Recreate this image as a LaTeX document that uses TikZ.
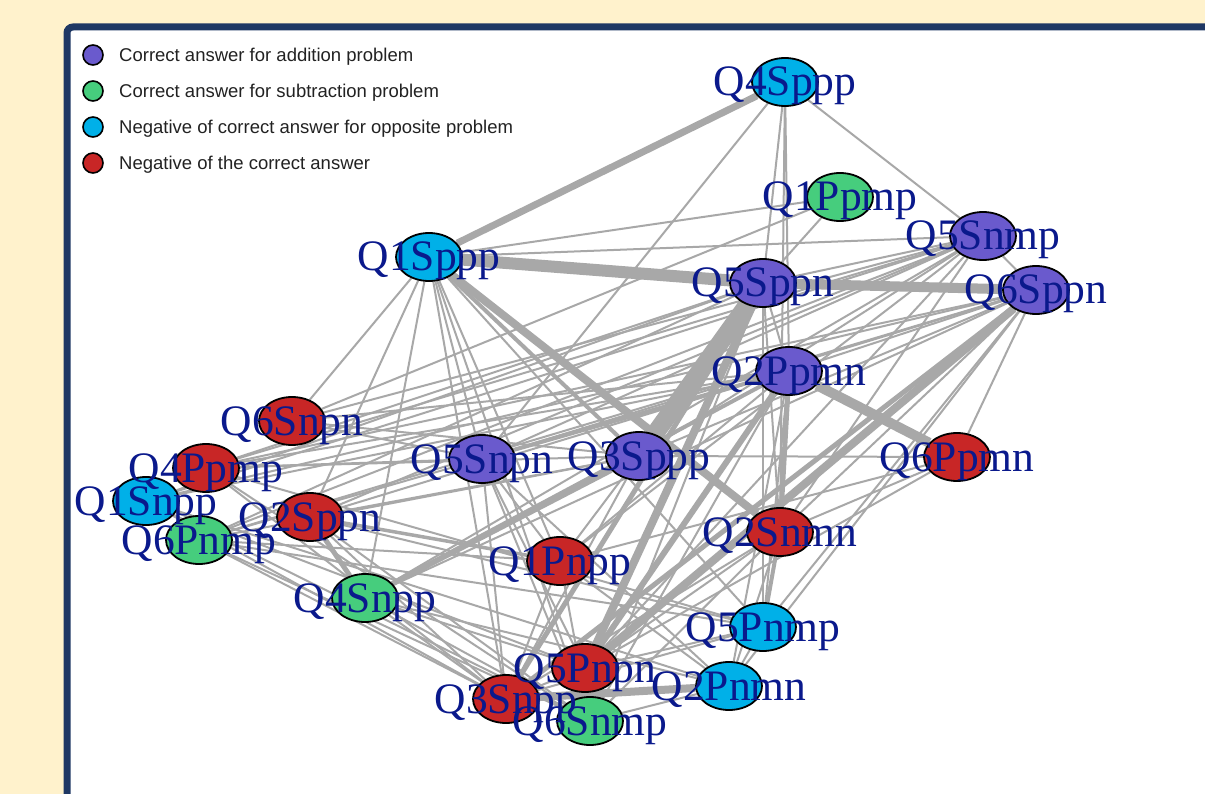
\documentclass[tikz,border=0pt]{standalone}
\usepackage{fontspec}
\usetikzlibrary{shapes.geometric,backgrounds}
\newfontfamily\labfont{Liberation Serif}
\newfontfamily\legfont{Liberation Sans}
\definecolor{bgcream}{RGB}{255,242,204}
\definecolor{panelnavy}{RGB}{31,56,100}
\definecolor{addc}{RGB}{106,90,205}
\definecolor{subc}{RGB}{70,205,125}
\definecolor{oppc}{RGB}{0,176,232}
\definecolor{negc}{RGB}{200,38,38}
\definecolor{labblue}{RGB}{10,25,140}
\definecolor{edgegray}{RGB}{168,168,168}
\definecolor{legtext}{RGB}{34,34,34}
\tikzset{
  nd/.style={ellipse, draw=black, line width=1.8pt, minimum width=66pt, minimum height=48pt, inner sep=0pt},
  lab/.style={font=\labfont\fontsize{43.5}{43.5}\selectfont, text=labblue, anchor=base, inner sep=0pt, yshift=-14pt},
  edg/.style={draw=edgegray, line width=#1},
  edg/.default=2pt,
  legdot/.style={circle, draw=black, line width=1.6pt, minimum size=20pt, inner sep=0pt},
  legtxt/.style={font=\legfont\fontsize{18.5}{18.5}\selectfont, text=legtext, anchor=base west, inner sep=0pt, yshift=-6.5pt}
}
\begin{document}
\begin{tikzpicture}[x=1pt,y=-1pt]
\useasboundingbox (0,0) rectangle (1205,794);
% nodes
\node[nd, fill=oppc] (q4sppp) at (785,82) {};
\node[nd, fill=subc] (q1ppmp) at (840,197) {};
\node[nd, fill=addc] (q5snmp) at (983,236) {};
\node[nd, fill=oppc] (q1sppp) at (429,257) {};
\node[nd, fill=addc] (q5sppn) at (763,283) {};
\node[nd, fill=addc] (q6sppn) at (1036,290) {};
\node[nd, fill=addc] (q2ppmn) at (789,371) {};
\node[nd, fill=negc] (q6snpn) at (292,421) {};
\node[nd, fill=negc] (q4ppmp) at (206,468) {};
\node[nd, fill=addc] (q5snpn) at (482,459) {};
\node[nd, fill=addc] (q3sppp) at (639,456) {};
\node[nd, fill=negc] (q6ppmn) at (957,457) {};
\node[nd, fill=oppc] (q1snpp) at (146,501) {};
\node[nd, fill=negc] (q2sppn) at (310,517) {};
\node[nd, fill=subc] (q6pnmp) at (199,540) {};
\node[nd, fill=negc] (q2snmn) at (780,532) {};
\node[nd, fill=negc] (q1pnpp) at (560,561) {};
\node[nd, fill=subc] (q4snpp) at (365,598) {};
\node[nd, fill=oppc] (q5pnmp) at (763,627) {};
\node[nd, fill=negc] (q3snpp) at (506,699) {};
\node[nd, fill=negc] (q5pnpn) at (585,668) {};
\node[nd, fill=oppc] (q2pnmn) at (729,686) {};
\node[nd, fill=subc] (q6snmp) at (590,721) {};
% labels
\node[lab] at (q4sppp) {Q4Sppp};
\node[lab] at (q1ppmp) {Q1Ppmp};
\node[lab] at (q5snmp) {Q5Snmp};
\node[lab] at (q1sppp) {Q1Sppp};
\node[lab] at (q5sppn) {Q5Sppn};
\node[lab] at (q6sppn) {Q6Sppn};
\node[lab] at (q2ppmn) {Q2Ppmn};
\node[lab] at (q6snpn) {Q6Snpn};
\node[lab] at (q4ppmp) {Q4Ppmp};
\node[lab] at (q5snpn) {Q5Snpn};
\node[lab] at (q3sppp) {Q3Sppp};
\node[lab] at (q6ppmn) {Q6Ppmn};
\node[lab] at (q1snpp) {Q1Snpp};
\node[lab] at (q2sppn) {Q2Sppn};
\node[lab] at (q6pnmp) {Q6Pnmp};
\node[lab] at (q2snmn) {Q2Snmn};
\node[lab] at (q1pnpp) {Q1Pnpp};
\node[lab] at (q4snpp) {Q4Snpp};
\node[lab] at (q5pnmp) {Q5Pnmp};
\node[lab] at (q3snpp) {Q3Snpp};
\node[lab] at (q5pnpn) {Q5Pnpn};
\node[lab] at (q2pnmn) {Q2Pnmn};
\node[lab] at (q6snmp) {Q6Snmp};
% legend
\node[legdot, fill=addc] (l1) at (93,55) {};
\node[legdot, fill=subc] (l2) at (93,91) {};
\node[legdot, fill=oppc] (l3) at (93,127) {};
\node[legdot, fill=negc] (l4) at (93,163) {};
\node[legtxt] (t1) at (119,55) {Correct answer for addition problem};
\node[legtxt] (t2) at (119,91) {Correct answer for subtraction problem};
\node[legtxt] (t3) at (119,127) {Negative of correct answer for opposite problem};
\node[legtxt] (t4) at (119,163) {Negative of the correct answer};
\begin{pgfonlayer}{background}
\fill[bgcream] (0,0) rectangle (1205,794);
\draw[panelnavy, line width=7pt, fill=white, rounded corners=6pt] (67,27) rectangle (1240,840);
% thin edges
\foreach \a/\b in {
 q4sppp/q5sppn, q4sppp/q2ppmn, q4sppp/q5snmp, q4sppp/q5snpn, q4sppp/q2snmn,
 q1sppp/q1ppmp, q1sppp/q5snmp, q1sppp/q6snpn, q1sppp/q2sppn, q1sppp/q4snpp, q1sppp/q5snpn,
 q1sppp/q1pnpp, q1sppp/q3snpp, q1sppp/q6snmp, q1sppp/q5pnmp,
 q1ppmp/q5sppn, q1ppmp/q6snpn,
 q5snmp/q5sppn, q5snmp/q6sppn, q5snmp/q4ppmp, q5snmp/q6snpn, q5snmp/q5snpn, q5snmp/q3sppp,
 q5snmp/q2sppn, q5snmp/q4snpp, q5snmp/q2snmn, q5snmp/q1pnpp, q5snmp/q5pnpn, q5snmp/q1snpp, q5snmp/q6pnmp,
 q6sppn/q4ppmp, q6sppn/q1snpp, q6sppn/q6pnmp, q6sppn/q5snpn, q6sppn/q2ppmn, q6sppn/q3sppp,
 q6sppn/q6ppmn, q6sppn/q2snmn, q6sppn/q5pnmp, q6sppn/q2pnmn, q6sppn/q4snpp,
 q5sppn/q2ppmn, q5sppn/q2snmn, q5sppn/q5pnmp, q5sppn/q4ppmp, q5sppn/q6pnmp, q5sppn/q1snpp, q5sppn/q6snmp,
 q2ppmn/q4ppmp, q2ppmn/q1snpp, q2ppmn/q6pnmp, q2ppmn/q2sppn, q2ppmn/q1pnpp, q2ppmn/q5pnmp,
 q2ppmn/q2pnmn, q2ppmn/q6snmp,
 q3sppp/q6ppmn, q3sppp/q1pnpp, q3sppp/q2sppn, q3sppp/q6pnmp, q3sppp/q4ppmp, q3sppp/q3snpp,
 q6ppmn/q2snmn, q6ppmn/q5pnpn, q6ppmn/q1pnpp,
 q6snpn/q5snpn, q6snpn/q2ppmn, q6snpn/q3sppp,
 q4ppmp/q5pnmp, q4ppmp/q3snpp, q4ppmp/q6snmp, q4ppmp/q5snpn,
 q1snpp/q3snpp, q1snpp/q5pnpn, q1snpp/q6snmp, q1snpp/q2pnmn,
 q6pnmp/q3snpp, q6pnmp/q6snmp, q6pnmp/q5pnmp, q6pnmp/q1pnpp,
 q2sppn/q3snpp, q2sppn/q5pnmp, q2sppn/q6snmp,
 q4snpp/q3snpp, q4snpp/q6snmp, q4snpp/q5pnpn, q4snpp/q2pnmn,
 q5snpn/q3snpp, q5snpn/q5pnpn, q5snpn/q1pnpp, q5snpn/q6snmp, q5snpn/q2pnmn,
 q2snmn/q3snpp, q2snmn/q6snmp, q2snmn/q2pnmn, q2snmn/q5pnpn,
 q5pnmp/q5pnpn, q5pnmp/q3snpp, q5pnmp/q2pnmn,
 q1pnpp/q3snpp, q1pnpp/q6snmp, q1pnpp/q2pnmn,
 q5pnpn/q3snpp, q6snmp/q2pnmn}
 \draw[edg] (\a) -- (\b);
% heavier edges
\draw[edg=7pt] (q4sppp) -- (q1sppp);
\draw[edg=12pt] (q1sppp) -- (q5sppn);
\draw[edg=10pt] (q5sppn) -- (q6sppn);
\draw[edg=8pt] (q1sppp) -- (q2snmn);
\draw[edg=4pt] (q1sppp) -- (q3sppp);
\draw[edg=18pt] (q5sppn) -- (q3sppp);
\draw[edg=8pt] (q5sppn) -- (q5pnpn);
\draw[edg=5pt] (q5sppn) -- (q3snpp);
\draw[edg=8pt] (q6sppn) -- (q5pnpn);
\draw[edg=5pt] (q6sppn) -- (q3snpp);
\draw[edg=10pt] (q2ppmn) -- (q6ppmn);
\draw[edg=6pt] (q2ppmn) -- (q5pnpn);
\draw[edg=5pt] (q2ppmn) -- (q2snmn);
\draw[edg=8pt] (q3snpp) -- (q2pnmn);
\draw[edg=4pt] (q2snmn) -- (q5pnmp);
\draw[edg=5pt] (q2sppn) -- (q4snpp);
\draw[edg=5pt] (q4snpp) -- (q3sppp);
\draw[edg=4pt] (q4snpp) -- (q2ppmn);
\draw[edg=4pt] (q5snpn) -- (q2ppmn);
\draw[edg=3.5pt] (q2sppn) -- (q1pnpp);
\end{pgfonlayer}
\end{tikzpicture}
\end{document}
